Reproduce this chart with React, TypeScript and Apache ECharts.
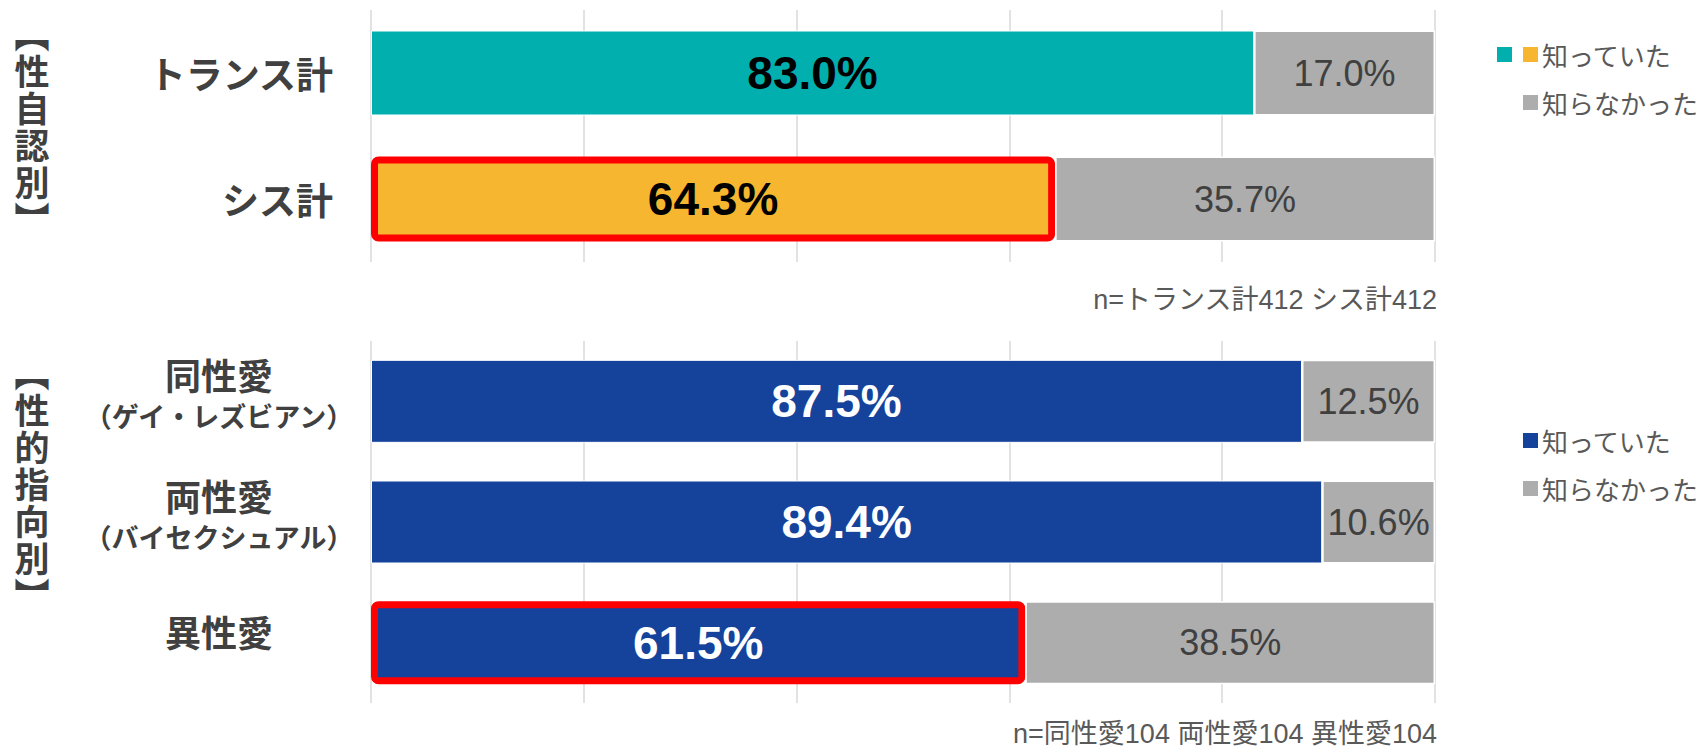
import React, { useEffect, useRef } from "react";
import * as echarts from "echarts";

const topCategories = ["トランス計", "シス計"];
const topKnew = [83.0, 64.3];
const topNotKnew = [17.0, 35.7];
const topKnewColors = ["#02AFAF", "#F6B62F"];

const bottomCategories = ["同性愛", "両性愛", "異性愛"];
const bottomSubs = ["（ゲイ・レズビアン）", "（バイセクシュアル）", ""];
const bottomKnew = [87.5, 89.4, 61.5];
const bottomNotKnew = [12.5, 10.6, 38.5];

const highlightTop = [false, true];
const highlightBottom = [false, false, true];

const legendKnew = "知っていた";
const legendNotKnew = "知らなかった";
const noteTop = "n=トランス計412 シス計412";
const noteBottom = "n=同性愛104 両性愛104 異性愛104";
const sideTop = ["︻", "性", "自", "認", "別", "︼"];
const sideBottom = ["︻", "性", "的", "指", "向", "別", "︼"];

const BLUE = "#15439C";
const GRAY = "#ADADAD";
const RED = "#FF0000";
const JP = "'Noto Sans CJK JP', sans-serif";
const NUM = "'Liberation Sans', Arial, 'Noto Sans CJK JP', sans-serif";

export default function App() {
  const ref = useRef<HTMLDivElement>(null);
  useEffect(() => {
    document.body.style.margin = "0";
    const chart = echarts.init(ref.current!, null, { renderer: "svg" });
    const fmt = (p: any) => Number(p.value).toFixed(1) + "%";
    const knewItems = (vals: number[], colors: string[], hl: boolean[]) =>
      vals.map((v, i) => ({
        value: v,
        itemStyle: hl[i]
          ? { color: colors[i], borderColor: RED, borderWidth: 7, borderRadius: 4 }
          : { color: colors[i], borderColor: "#fff", borderWidth: 1 },
      }));
    const xAxisBase = {
      type: "value",
      min: 0,
      max: 100,
      interval: 20,
      axisLabel: { show: false },
      axisLine: { show: false },
      axisTick: { show: false },
      splitLine: { show: true, lineStyle: { color: "#D9D9D9", width: 1.5 } },
    };
    const grayLabel = {
      show: true,
      position: "inside",
      formatter: fmt,
      color: "#404040",
      fontSize: 36,
      fontFamily: NUM,
    };
    const legendBlock = (y: number, knewColors: string[]) => {
      const els: any[] = [];
      knewColors.forEach((c, i) => {
        els.push({
          type: "rect",
          shape: { x: 1538 - 15 - (knewColors.length - 1 - i) * 26, y: y - 7, width: 15, height: 15 },
          style: { fill: c },
        });
      });
      els.push({
        type: "text",
        x: 1542,
        y: y,
        style: { text: legendKnew, fontSize: 26, fontFamily: JP, fill: "#595959", verticalAlign: "middle" },
      });
      els.push({
        type: "rect",
        shape: { x: 1523, y: y + 48 - 7, width: 15, height: 15 },
        style: { fill: GRAY },
      });
      els.push({
        type: "text",
        x: 1542,
        y: y + 48,
        style: { text: legendNotKnew, fontSize: 26, fontFamily: JP, fill: "#595959", verticalAlign: "middle" },
      });
      return els;
    };
    const sideText = (chars: string[], cy: number) => {
      const step = 37;
      const y0 = cy - ((chars.length - 1) * step) / 2;
      return chars.map((ch, i) => ({
        type: "text",
        x: 32,
        y: y0 + i * step,
        style: {
          text: ch,
          fontSize: 35,
          lineHeight: 35,
          fontWeight: "bold",
          fontFamily: JP,
          fill: "#404040",
          align: "center",
          verticalAlign: "middle",
        },
      }));
    };
    const option: any = {
      animation: false,
      backgroundColor: "#fff",
      grid: [
        { left: 371, top: 10, width: 1064, height: 252 },
        { left: 371, top: 341, width: 1064, height: 362 },
      ],
      xAxis: [
        { ...xAxisBase, gridIndex: 0 },
        { ...xAxisBase, gridIndex: 1 },
      ],
      yAxis: [
        {
          type: "category",
          gridIndex: 0,
          inverse: true,
          data: topCategories,
          axisLine: { show: false },
          axisTick: { show: false },
          axisLabel: {
            margin: 38,
            fontSize: 37,
            fontWeight: "bold",
            fontFamily: JP,
            color: "#404040",
            padding: [0, 0, 14, 0],
          },
        },
        {
          type: "category",
          gridIndex: 1,
          inverse: true,
          data: bottomCategories,
          axisLine: { show: false },
          axisTick: { show: false },
          axisLabel: {
            margin: 152,
            align: "center",
            formatter: (v: string, i: number) =>
              bottomSubs[i] ? `{a|${v}}\n{b|${bottomSubs[i]}}` : `{c|${v}}`,
            rich: {
              a: { fontSize: 36, fontWeight: "bold", fontFamily: JP, color: "#404040", lineHeight: 44, align: "center" },
              b: { fontSize: 27, fontWeight: "bold", fontFamily: JP, color: "#404040", lineHeight: 38, align: "center" },
              c: {
                fontSize: 36,
                fontWeight: "bold",
                fontFamily: JP,
                color: "#404040",
                lineHeight: 44,
                align: "center",
                padding: [0, 0, 8, 0],
              },
            },
            padding: [0, 0, 16, 0],
          },
        },
      ],
      series: [
        {
          name: legendKnew,
          type: "bar",
          stack: "t",
          xAxisIndex: 0,
          yAxisIndex: 0,
          barWidth: 85,
          data: knewItems(topKnew, topKnewColors, highlightTop),
          label: {
            show: true,
            position: "inside",
            formatter: fmt,
            color: "#000",
            fontSize: 46,
            fontWeight: "bold",
            fontFamily: NUM,
          },
        },
        {
          name: legendNotKnew,
          type: "bar",
          stack: "t",
          xAxisIndex: 0,
          yAxisIndex: 0,
          barWidth: 85,
          itemStyle: { color: GRAY, borderColor: "#fff", borderWidth: 1.5 },
          data: topNotKnew,
          label: grayLabel,
        },
        {
          name: legendKnew,
          type: "bar",
          stack: "b",
          xAxisIndex: 1,
          yAxisIndex: 1,
          barWidth: 83,
          data: knewItems(bottomKnew, bottomKnew.map(() => BLUE), highlightBottom),
          label: {
            show: true,
            position: "inside",
            formatter: fmt,
            color: "#fff",
            fontSize: 46,
            fontWeight: "bold",
            fontFamily: NUM,
          },
        },
        {
          name: legendNotKnew,
          type: "bar",
          stack: "b",
          xAxisIndex: 1,
          yAxisIndex: 1,
          barWidth: 83,
          itemStyle: { color: GRAY, borderColor: "#fff", borderWidth: 1.5 },
          data: bottomNotKnew,
          label: grayLabel,
        },
      ],
      graphic: [
        ...sideText(sideTop, 125),
        ...sideText(sideBottom, 482),
        {
          type: "text",
          x: 1437,
          y: 300,
          style: { text: noteTop, fontSize: 27, fontFamily: NUM, fill: "#595959", align: "right", verticalAlign: "middle" },
        },
        {
          type: "text",
          x: 1437,
          y: 734,
          style: {
            text: noteBottom,
            fontSize: 27,
            lineHeight: 27,
            fontFamily: NUM,
            fill: "#595959",
            align: "right",
            verticalAlign: "middle",
          },
        },
        ...legendBlock(54, topKnewColors),
        ...legendBlock(440, [BLUE]),
      ],
    };
    chart.setOption(option);
    return () => chart.dispose();
  }, []);
  return <div ref={ref} style={{ width: 1705, height: 748 }} />;
}
